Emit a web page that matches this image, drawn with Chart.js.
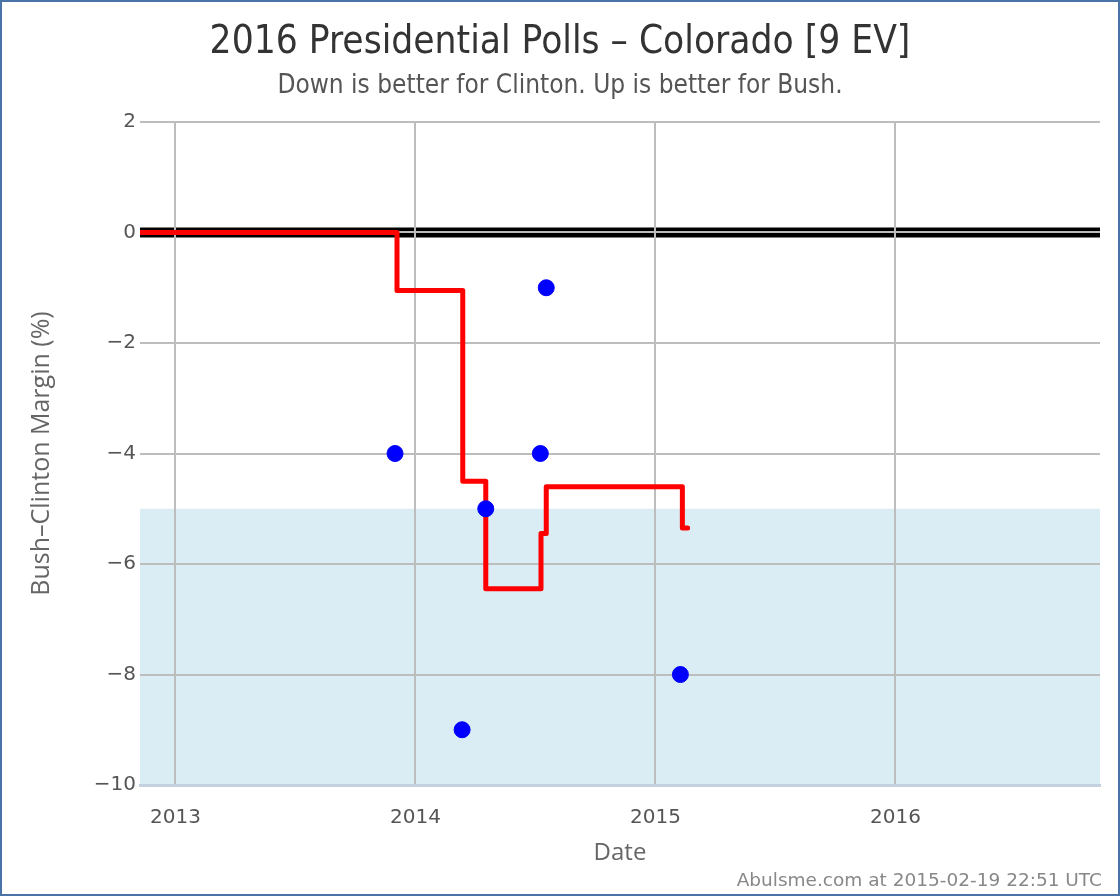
<!DOCTYPE html>
<html>
<head>
<meta charset="utf-8">
<script src="https://cdn.jsdelivr.net/npm/chart.js@4"></script>
<style>
  html, body { margin: 0; padding: 0; background: #fff; }
  #frame { position: absolute; left: 0; top: 0; width: 1116px; height: 892px; border: 2px solid #4a74a8; overflow: hidden; }
  #chart { position: absolute; left: 0; top: 0; }
  .txt { position: absolute; left: 0; width: 1116px; text-align: center; white-space: nowrap; }
  #title { top: 15px; font: 38.5px "DejaVu Sans Condensed", "DejaVu Sans", sans-serif; font-stretch: condensed; color: #333; }
  #subtitle { top: 67px; font: 26px "DejaVu Sans Condensed", "DejaVu Sans", sans-serif; font-stretch: condensed; color: #555; }
  #footer { top: 867px; left: auto; right: 16px; width: auto; text-align: right; font: 18.5px "DejaVu Sans", sans-serif; color: #888; }
</style>
</head>
<body>
<div id="frame">
  <canvas id="chart" width="1116" height="892"></canvas>
  <div id="title" class="txt">2016 Presidential Polls – Colorado [9 EV]</div>
  <div id="subtitle" class="txt">Down is better for Clinton. Up is better for Bush.</div>
  <div id="footer" class="txt">Abulsme.com at 2015-02-19 22:51 UTC</div>
</div>
<script>
/* Colorado: Bush vs Clinton poll margins */

const X_RANGE = ['2012-11-08', '2016-11-08'];
const X_TICKS = [2013, 2014, 2015, 2016];
const Y_TICKS = [-10, -8, -6, -4, -2, 0, 2];
const BAND = [-10, -5];   // light blue "strong Clinton" band
const ZERO = 0;

// individual polls
const POLL_DATES = ['2013-12-01', '2014-03-13', '2014-04-18', '2014-07-10', '2014-07-19', '2015-02-08'];
const POLL_MARGINS = [-4, -9, -5, -4, -1, -8];

// poll average (step line)
const AVG_DATES = ['2012-11-08', '2013-12-04', '2014-03-14', '2014-04-18', '2014-07-11', '2014-07-19', '2015-02-11', '2015-02-19'];
const AVG_MARGINS = [0, -1.05, -4.5, -6.45, -5.45, -4.6, -5.35, -5.35];

function toYear(s) {
  const d = Date.parse(s + 'T00:00:00Z');
  const y = new Date(d).getUTCFullYear();
  const a = Date.UTC(y, 0, 1), b = Date.UTC(y + 1, 0, 1);
  return y + (d - a) / (b - a);
}
const pts = (xs, ys) => xs.map((x, i) => ({ x: toYear(x), y: ys[i] }));
const minus = v => (v < 0 ? '\u2212' + Math.abs(v) : String(v));

// band + heavy zero line sit under the grid
const underlay = {
  id: 'underlay',
  beforeDraw(chart) {
    const { ctx, chartArea: a, scales: { y } } = chart;
    ctx.save();
    ctx.fillStyle = '#daedf5';
    const top = y.getPixelForValue(BAND[1]), bot = y.getPixelForValue(BAND[0]);
    ctx.fillRect(a.left, top, a.right - a.left, bot - top);
    ctx.strokeStyle = '#000';
    ctx.lineWidth = 10;
    ctx.beginPath();
    ctx.moveTo(a.left, y.getPixelForValue(ZERO));
    ctx.lineTo(a.right, y.getPixelForValue(ZERO));
    ctx.stroke();
    ctx.restore();
  }
};

const tickFont = { family: 'DejaVu Sans', size: 20 };

new Chart(document.getElementById('chart'), {
  type: 'scatter',
  data: {
    datasets: [
      {
        type: 'line', data: pts(AVG_DATES, AVG_MARGINS), stepped: true,
        borderColor: '#ff0000', borderWidth: 5, pointRadius: 0,
        borderCapStyle: 'round', borderJoinStyle: 'round', order: 2,
      },
      {
        data: pts(POLL_DATES, POLL_MARGINS),
        backgroundColor: '#0000ff', borderColor: '#0000ff', pointRadius: 8, order: 1,
      },
    ],
  },
  options: {
    responsive: false,
    animation: false,
    layout: { padding: { top: 120, right: 18, left: 0, bottom: 0 } },
    plugins: { legend: { display: false }, tooltip: { enabled: false } },
    scales: {
      x: {
        type: 'linear', min: toYear(X_RANGE[0]), max: toYear(X_RANGE[1]),
        afterFit: s => { s.height = 109; },
        afterBuildTicks: s => { s.ticks = X_TICKS.map(v => ({ value: v })); },
        ticks: { color: '#555', font: tickFont, padding: 21, maxRotation: 0, callback: v => String(v) },
        grid: { color: '#bdbdbd', lineWidth: 2, drawTicks: false },
        border: { display: true, color: '#c3d0e0', width: 3 },
        title: { display: true, text: 'Date', color: '#666', font: { family: 'Open Sans', size: 24 }, padding: { top: 8, bottom: 26 } },
      },
      y: {
        min: Y_TICKS[0], max: Y_TICKS[Y_TICKS.length - 1],
        afterFit: s => { s.width = 138; },
        afterBuildTicks: s => { s.ticks = Y_TICKS.map(v => ({ value: v })); },
        ticks: { color: '#555', font: tickFont, padding: 4, callback: v => minus(v) },
        grid: { color: '#bdbdbd', lineWidth: 2, drawTicks: false },
        border: { display: false },
        title: { display: true, text: 'Bush\u2013Clinton Margin (%)', color: '#666', font: { family: 'Open Sans', size: 25 }, padding: { top: 25, bottom: 0 } },
      },
    },
  },
  plugins: [underlay],
});
</script>
</body>
</html>
